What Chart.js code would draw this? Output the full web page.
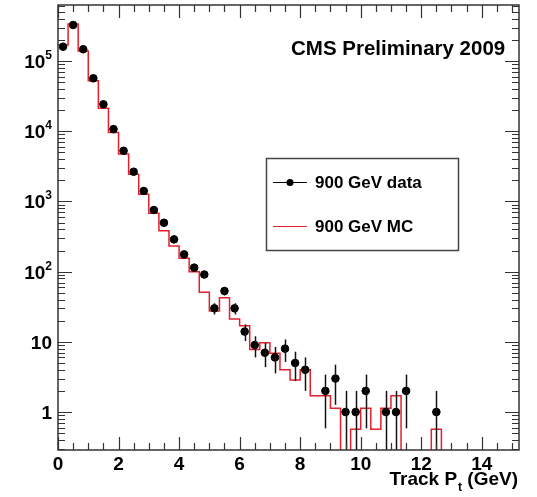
<!DOCTYPE html>
<html>
<head>
<meta charset="utf-8">
<script src="https://cdn.jsdelivr.net/npm/chart.js@4.4.0/dist/chart.umd.min.js"></script>
<style>
  html, body { margin: 0; padding: 0; background: #fff; }
  #wrap { width: 537px; height: 497px; position: relative; }
</style>
</head>
<body>
<div id="wrap"><canvas id="chart"></canvas></div>
<script>
// Track pT spectrum, bins of 1/3 GeV
const binWidth = 1 / 3;

// 900 GeV data (entries per bin, 0 = empty bin)
const dataCounts = [
  160000, 326000, 147000, 56700, 24200, 10700, 5270, 2650, 1410, 754,
  497, 288, 176, 114, 91, 30, 53, 30, 14, 9,
  7, 6, 8, 5, 4, 0, 2, 3, 1, 1,
  2, 0, 1, 1, 2, 0, 0, 1
];

// 900 GeV MC (normalised to data)
const mcCounts = [
  169000, 337000, 139000, 52400, 21200, 9600, 4730, 2430, 1262, 677,
  383, 232, 155, 100, 51, 27.5, 42.5, 21.1, 17, 7.8,
  9.7, 6.9, 4.0, 2.86, 4.0, 1.7, 1.7, 1.13, 0, 0.57,
  1.13, 0.57, 1.13, 1.7, 0, 0, 0, 0.57
];

const xTicks = [0, 2, 4, 6, 8, 10, 12, 14];
const yTicks = [1, 10, 100, 1000, 10000, 100000];
const yTickLabels = [['1', ''], ['10', ''], ['10', '2'], ['10', '3'], ['10', '4'], ['10', '5']];
const legendLabels = ['900 GeV data', '900 GeV MC'];
const titleText = 'CMS Preliminary 2009';

const FONT = '"Liberation Sans", Arial, Helvetica, sans-serif';
const RED = '#e4202c';
const FLOOR = 1e-3; // empty MC bins drop below the axis

const dataPoints = dataCounts
  .map((v, i) => (v > 0 ? { x: (i + 0.5) * binWidth, y: v } : null))
  .filter(p => p !== null);

const mcSteps = mcCounts.map((v, i) => ({ x: i * binWidth, y: v > 0 ? v : FLOOR }));
mcSteps.push({ x: mcCounts.length * binWidth, y: FLOOR });

// frame, inner ticks, labels, error bars, title and legend (ROOT look)
const rootStyle = {
  id: 'rootStyle',
  afterDatasetsDraw(chart) {
    const ctx = chart.ctx;
    const a = chart.chartArea;
    const xs = chart.scales.x;
    const ys = chart.scales.y;

    // error bars
    ctx.save();
    ctx.beginPath();
    ctx.rect(a.left, a.top, a.right - a.left, a.bottom - a.top);
    ctx.clip();
    ctx.strokeStyle = '#111';
    ctx.lineWidth = 1.5;
    dataPoints.forEach(p => {
      const e = Math.sqrt(p.y);
      const px = Math.round(xs.getPixelForValue(p.x)) + 0.5;
      const top = ys.getPixelForValue(p.y + e);
      const bot = p.y - e > 0 ? ys.getPixelForValue(p.y - e) : a.bottom;
      ctx.beginPath();
      ctx.moveTo(px, top);
      ctx.lineTo(px, bot);
      ctx.stroke();
    });
    ctx.restore();

    ctx.save();
    // frame
    ctx.strokeStyle = '#333';
    ctx.lineWidth = 1.5;
    ctx.strokeRect(a.left, a.top, a.right - a.left, a.bottom - a.top);

    // x ticks (bottom + top)
    ctx.lineWidth = 1.2;
    ctx.beginPath();
    for (let i = 0; i * 0.5 <= xs.max; i++) {
      const v = i * 0.5;
      const px = Math.round(xs.getPixelForValue(v)) + 0.5;
      const len = (v % 2 === 0) ? 13 : 7;
      ctx.moveTo(px, a.bottom); ctx.lineTo(px, a.bottom - len);
      ctx.moveTo(px, a.top); ctx.lineTo(px, a.top + len);
    }
    // y ticks (left + right)
    for (let d = 0.1; d < ys.max; d *= 10) {
      for (let m = 1; m <= 9; m++) {
        const v = m * d;
        if (v < ys.min || v > ys.max) continue;
        const py = Math.round(ys.getPixelForValue(v)) + 0.5;
        const len = m === 1 ? 14 : 7;
        ctx.moveTo(a.left, py); ctx.lineTo(a.left + len, py);
        ctx.moveTo(a.right, py); ctx.lineTo(a.right - len, py);
      }
    }
    ctx.stroke();

    // x tick labels
    ctx.fillStyle = '#000';
    ctx.font = 'bold 19px ' + FONT;
    ctx.textAlign = 'center';
    ctx.textBaseline = 'alphabetic';
    xTicks.forEach(v => ctx.fillText(String(v), xs.getPixelForValue(v), 470));

    // y tick labels with exponents
    yTicks.forEach((v, i) => {
      const py = ys.getPixelForValue(v);
      const [base, exp] = yTickLabels[i];
      const right = 52;
      ctx.textAlign = 'right';
      let ew = 0;
      if (exp) {
        ctx.font = 'bold 12px ' + FONT;
        ew = ctx.measureText(exp).width;
        ctx.fillText(exp, right, py - 2);
      }
      ctx.font = 'bold 19px ' + FONT;
      ctx.fillText(base, right - ew, py + 7);
    });

    // x axis title: Track P_t (GeV)
    ctx.textAlign = 'left';
    ctx.font = 'bold 19px ' + FONT;
    const t1 = 'Track P', t2 = 't', t3 = ' (GeV)';
    const w1 = ctx.measureText(t1).width;
    const w3 = ctx.measureText(t3).width;
    ctx.font = 'bold 12px ' + FONT;
    const w2 = ctx.measureText(t2).width;
    let tx = 517 - (w1 + w2 + w3);
    ctx.font = 'bold 19px ' + FONT;
    ctx.fillText(t1, tx, 485);
    ctx.font = 'bold 12px ' + FONT;
    ctx.fillText(t2, tx + w1 + 1, 491);
    ctx.font = 'bold 19px ' + FONT;
    ctx.fillText(t3, tx + w1 + w2 + 1, 485);

    // title
    ctx.font = 'bold 20.5px ' + FONT;
    ctx.fillText(titleText, 291, 55);

    // legend
    ctx.strokeStyle = '#444';
    ctx.lineWidth = 1.5;
    ctx.strokeRect(266.5, 158.5, 192, 92);
    ctx.lineWidth = 1.2;
    ctx.strokeStyle = '#000';
    ctx.beginPath(); ctx.moveTo(273, 182.5); ctx.lineTo(307, 182.5); ctx.stroke();
    ctx.beginPath(); ctx.arc(290, 182.5, 3.5, 0, Math.PI * 2); ctx.fill();
    ctx.strokeStyle = RED;
    ctx.beginPath(); ctx.moveTo(273, 226.5); ctx.lineTo(307, 226.5); ctx.stroke();
    ctx.fillStyle = '#000';
    ctx.font = 'bold 17px ' + FONT;
    ctx.fillText(legendLabels[0], 315, 188);
    ctx.fillText(legendLabels[1], 315, 232);
    ctx.restore();
  }
};

new Chart(document.getElementById('chart'), {
  type: 'scatter',
  data: {
    datasets: [
      {
        type: 'line',
        label: legendLabels[1],
        data: mcSteps,
        stepped: 'before',
        borderColor: RED,
        borderWidth: 1.5,
        pointRadius: 0,
        fill: false,
        order: 2
      },
      {
        type: 'scatter',
        label: legendLabels[0],
        data: dataPoints,
        backgroundColor: '#000',
        borderColor: '#000',
        pointRadius: 3.8,
        order: 1
      }
    ]
  },
  options: {
    responsive: true,
    maintainAspectRatio: false,
    animation: false,
    layout: { padding: { left: 0, right: 18, top: 5, bottom: 0 } },
    plugins: { legend: { display: false }, tooltip: { enabled: false } },
    scales: {
      x: {
        type: 'linear', min: 0, max: 15.23,
        grid: { display: false }, border: { display: false },
        ticks: { display: false },
        afterBuildTicks: s => { s.ticks = xTicks.map(v => ({ value: v })); },
        afterFit: s => { s.height = 47; }
      },
      y: {
        type: 'logarithmic', min: 0.288, max: 6.28e5,
        grid: { display: false }, border: { display: false },
        ticks: { display: false },
        afterBuildTicks: s => { s.ticks = yTicks.map(v => ({ value: v })); },
        afterFit: s => { s.width = 58; }
      }
    }
  },
  plugins: [rootStyle]
});
</script>
</body>
</html>
